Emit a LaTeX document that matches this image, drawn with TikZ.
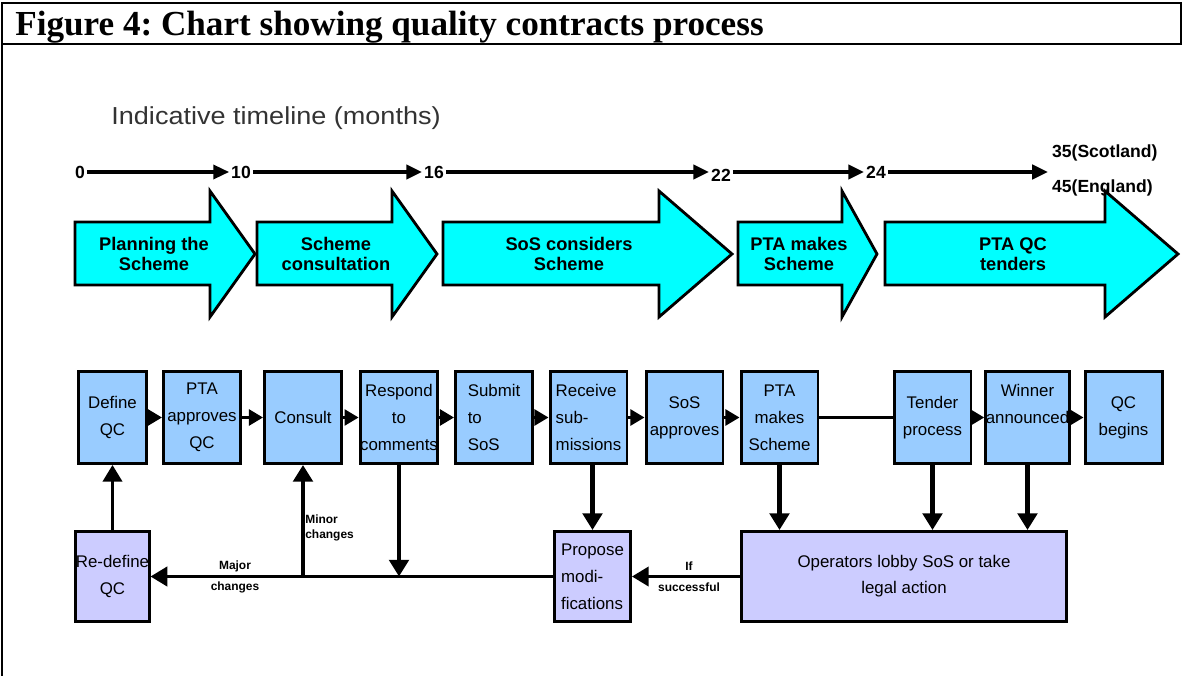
\documentclass[tikz,border=0pt]{standalone}
\usepackage{fontspec}
\setmainfont{Liberation Serif}
\setsansfont{Liberation Sans}
\usetikzlibrary{arrows.meta, positioning, calc}

\definecolor{phasecyan}{RGB}{0,255,255}
\definecolor{stageblue}{RGB}{153,204,255}
\definecolor{reviewlilac}{RGB}{204,204,255}
\definecolor{headgray}{RGB}{51,51,51}

\begin{document}
\frenchspacing
\begin{tikzpicture}[
    x=0.02cm, y=-0.02cm,
    every node/.style={font=\sffamily},
    frame/.style={line width=1.4pt},
    tline/.style={line width=2.4pt, -{Triangle[length=9pt, width=8pt]}},
    tlabel/.style={font=\sffamily\bfseries\fontsize{10}{12}\selectfont, inner sep=1pt},
    phase/.style={fill=phasecyan, draw=black, line width=1.6pt},
    phaselabel/.style={align=center, font=\sffamily\bfseries\fontsize{10.4}{11.3}\selectfont},
    stage/.style={draw=black, line width=1.7pt, fill=stageblue, minimum height=1.84cm,
      minimum width=1.54cm, inner sep=0pt, align=center,
      font=\sffamily\fontsize{9.6}{15.3}\selectfont},
    review/.style={stage, fill=reviewlilac, minimum height=1.8cm},
    link/.style={line width=1.7pt, -{Triangle[length=8pt, width=9pt]}},
    drop/.style={line width=2.7pt, -{Triangle[length=9.5pt, width=11pt]}},
    back/.style={line width=1.7pt, -{Triangle[length=9.5pt, width=11pt]}},
    note/.style={font=\sffamily\bfseries\fontsize{6.8}{8.5}\selectfont, inner sep=0pt}
  ]
    \useasboundingbox (0,0) rectangle (1183,676);

    % Title cell and table rule
    \draw[frame] (2,3) rectangle (1181,44);
    \draw[frame] (2,44) -- (2,676);
    \node[anchor=base west, inner sep=0pt, font=\rmfamily\bfseries\fontsize{20}{24}\selectfont]
      (title) at (15,35) {Figure 4: Chart showing quality contracts process};

    % Timeline
    \node[anchor=base west, inner sep=0pt, xscale=1.1, text=headgray,
      font=\sffamily\fontsize{14}{16}\selectfont] (heading) at (111,124)
      {Indicative timeline (months)};
    \node[tlabel] (t0) at (80,172) {0};
    \node[tlabel] (t10) at (241,172) {10};
    \node[tlabel] (t16) at (434,172) {16};
    \node[tlabel] (t22) at (721,175) {22};
    \node[tlabel] (t24) at (876,172) {24};
    \coordinate (tend) at (1048,172);
    \node[tlabel, anchor=west] (scot) at (1050,153) {35(Scotland)};
    \node[tlabel, anchor=west] (eng) at (1050,188) {45(England)};
    \draw[tline, line width=1.8pt] (t0) -- (t10);
    \draw[tline] (t10) -- (t16);
    \draw[tline] (t16) -- (t22.west |- t16);
    \draw[tline] (t22.east |- t24) -- (t24);
    \draw[tline] (t24) -- (tend);

    % Phase arrows
    \foreach \xs/\xb/\xt/\xc/\txt [count=\i] in {
        75/210/255/154/{Planning the\\Scheme},
        257/392/437/336/{Scheme\\consultation},
        443/659/732/569/{SoS considers\\Scheme},
        738/842/877/799/{PTA makes\\Scheme},
        885/1105/1178/1013/{PTA QC\\tenders}} {
      \draw[phase] (\xs,222) -- (\xb,222) -- (\xb,191) -- (\xt,254) -- (\xb,317)
        -- (\xb,285) -- (\xs,285) -- cycle;
      \node[phaselabel] (phase\i) at (\xc,254) {\txt};
    }

    % Process steps
    \node[stage, minimum width=1.36cm] (define) at (112.5,417.5) {Define\\QC};
    \node[stage] (approve) at (202,417.5) {PTA\\approves\\QC};
    \node[stage] (consult) at (303,417.5) {Consult};
    \node[stage] (respond) at (399,417.5) {Respond\\to\\comments};
    \node[stage, align=left] (submit) at (494,417.5) {Submit\\to\\SoS};
    \node[stage, align=left] (receive) at (588.5,417.5) {Receive\\sub-\\missions};
    \node[stage] (sosok) at (684.5,417.5) {SoS\\approves};
    \node[stage] (ptamakes) at (779.5,417.5) {PTA\\makes\\Scheme};
    \node[stage] (tender) at (932.5,417.5) {Tender\\process};
    \node[stage] (winner) at (1027.5,417.5) {Winner\\announced\\~};
    \node[stage] (qcbegins) at (1123.5,417.5) {QC\\begins};

    \node[review, minimum width=1.36cm] (redefine) at (112.5,576.5) {Re-define\\QC};
    \node[review, minimum width=1.52cm, align=left] (propose) at (592.5,576.5)
      {Propose\\modi-\\fications};
    \node[review, minimum width=6.5cm, font=\sffamily\fontsize{9.6}{14.7}\selectfont]
      (lobby) at (904,576.5) {Operators lobby SoS or take\\legal action};

    % Connectors
    \draw[link] (define) -- (approve);
    \draw[link] (approve) -- (consult);
    \draw[link] (consult) -- (respond);
    \draw[link] (respond) -- (submit);
    \draw[link] (submit) -- (receive);
    \draw[link] (receive) -- (sosok);
    \draw[link] (sosok) -- (ptamakes);
    \draw[line width=2.2pt] (ptamakes) -- (tender);
    \draw[link] (tender) -- (winner);
    \draw[link] (winner) -- (qcbegins);

    \draw[back] (redefine.north) -- (define.south);
    \draw[back] (propose) -- (redefine);
    \draw[drop] (consult.south |- redefine.east) -- (consult.south);
    \draw[drop] (respond.south) -- (respond.south |- redefine.east);
    \draw[drop] (receive.south -| propose.north) -- (propose.north);
    \draw[drop] (ptamakes.south) -- (ptamakes.south |- lobby.north);
    \draw[drop] (tender.south) -- (tender.south |- lobby.north);
    \draw[drop] (winner.south) -- (winner.south |- lobby.north);
    \draw[back] (lobby) -- (propose);

    % Connector labels
    \node[note, align=left, anchor=west] (minor) at (305,528) {Minor\\changes};
    \node[note, align=center, font=\sffamily\bfseries\fontsize{6.8}{12}\selectfont]
      (major) at (235,577) {Major\\changes};
    \node[note, align=center, font=\sffamily\bfseries\fontsize{6.8}{12}\selectfont]
      (ifok) at (689,577) {If\\successful};

  \end{tikzpicture}
\end{document}
